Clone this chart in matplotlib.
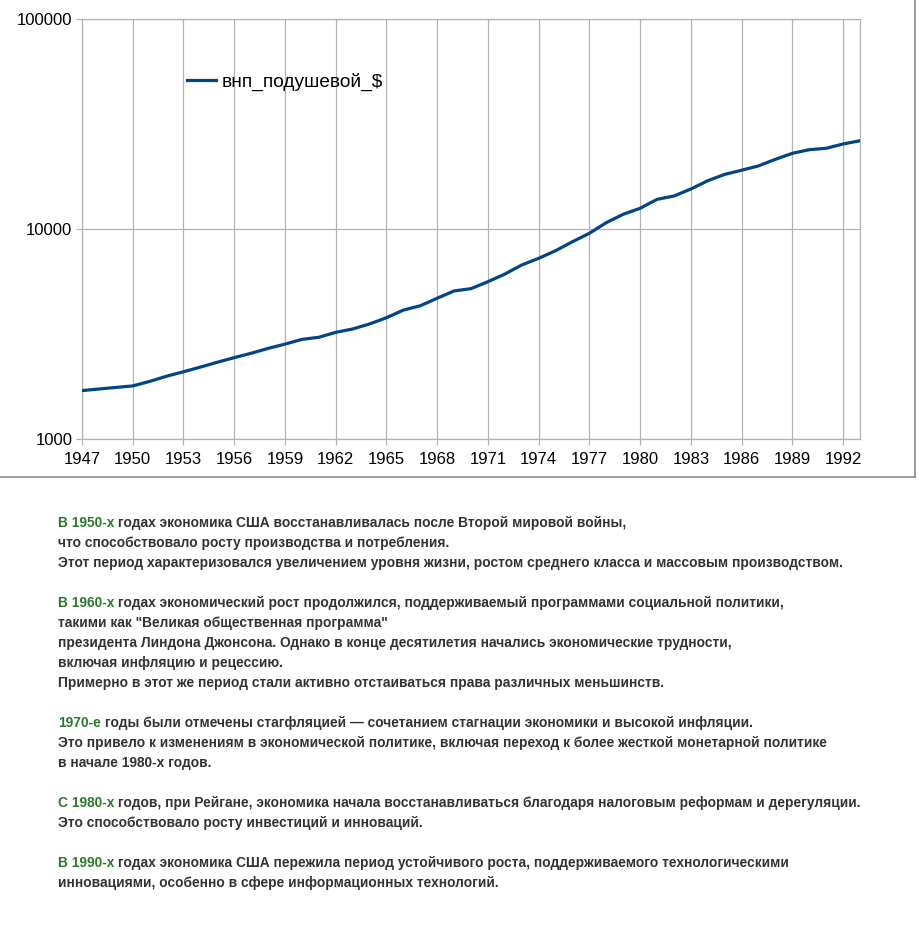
import numpy as np
import matplotlib.pyplot as plt
from matplotlib.lines import Line2D

plt.rcParams['font.family'] = ['Liberation Sans', 'DejaVu Sans']

years = list(range(1947, 1994))
gnp_per_capita = [1700, 1730, 1760, 1790, 1880, 1990, 2090, 2200, 2320, 2440,
                  2560, 2700, 2830, 2980, 3050, 3220, 3340, 3530, 3780, 4110,
                  4310, 4680, 5070, 5200, 5610, 6100, 6740, 7250, 7880, 8700,
                  9540, 10720, 11750, 12550, 13840, 14360, 15500, 16980, 18200,
                  19050, 19980, 21470, 22930, 23860, 24230, 25400, 26320]
series_name = 'внп_подушевой_$'
x_ticks = list(range(1947, 1993, 3))
y_ticks = [1000, 10000, 100000]

# paragraphs: (green prefix, rest of first line, following lines)
notes = [
    ('В 1950-х', ' годах экономика США восстанавливалась после Второй мировой войны,',
     ['что способствовало росту производства и потребления.',
      'Этот период характеризовался увеличением уровня жизни, ростом среднего класса и массовым производством.']),
    ('В 1960-х', ' годах экономический рост продолжился, поддерживаемый программами социальной политики,',
     ['такими как "Великая общественная программа"',
      'президента Линдона Джонсона. Однако в конце десятилетия начались экономические трудности,',
      'включая инфляцию и рецессию.',
      'Примерно в этот же период стали активно отстаиваться права различных меньшинств.']),
    ('1970-е', ' годы были отмечены стагфляцией — сочетанием стагнации экономики и высокой инфляции.',
     ['Это привело к изменениям в экономической политике, включая переход к более жесткой монетарной политике',
      'в начале 1980-х годов.']),
    ('С 1980-х', ' годов, при Рейгане, экономика начала восстанавливаться благодаря налоговым реформам и дерегуляции.',
     ['Это способствовало росту инвестиций и инноваций.']),
    ('В 1990-х', ' годах экономика США пережила период устойчивого роста, поддерживаемого технологическими',
     ['инновациями, особенно в сфере информационных технологий.']),
]

W, H = 919, 932
fig = plt.figure(figsize=(W / 100, H / 100), dpi=100)
ax = fig.add_axes([82 / W, 1 - 439 / H, (860 - 82) / W, (439 - 19) / H])

grid_c = '#b3b3b3'
ax.plot(years, gnp_per_capita, color='#004586', lw=2.3, label=series_name,
        solid_joinstyle='round', zorder=3)
ax.set_yscale('log')
ax.set_ylim(1000, 100000)
ax.set_xlim(1947, 1993)
ax.set_xticks(x_ticks)
ax.set_xticklabels([str(v) for v in x_ticks])
ax.set_yticks(y_ticks)
ax.set_yticklabels([str(v) for v in y_ticks])
ax.minorticks_off()
ax.grid(True, color=grid_c, lw=0.9)
for s in ax.spines.values():
    s.set_color(grid_c)
    s.set_linewidth(0.9)
ax.tick_params(colors=grid_c, labelcolor='black', labelsize=12, length=4, width=0.9, pad=3)
ax.tick_params(axis='x', pad=5)

ax.legend(loc='center left', bbox_to_anchor=(0.125, 1 - (82 - 19) / 420), frameon=False,
          fontsize=13.7, handlelength=1.55, handletextpad=0.28, borderaxespad=0)

# frame of the chart picture
fig.add_artist(Line2D([0, 915 / W], [1 - 477 / H] * 2, color='#8c8c8c', lw=1.2))
fig.add_artist(Line2D([915 / W] * 2, [1 - 477 / H, 1], color='#8c8c8c', lw=1.2))

renderer = fig.canvas.get_renderer()
txt_c = '#333333'
green = '#2b7a2b'
fs = 9.95
x0 = 58 / W
y = 527
for prefix, rest, more in notes:
    t = fig.text(x0, 1 - y / H, prefix, color=green, fontsize=fs, weight='bold', va='baseline')
    wpx = t.get_window_extent(renderer).width
    fig.text(x0 + wpx / W, 1 - y / H, rest, color=txt_c, fontsize=fs, weight='bold', va='baseline')
    y += 20
    for line in more:
        fig.text(x0, 1 - y / H, line, color=txt_c, fontsize=fs, weight='bold', va='baseline')
        y += 20
    y += 20

fig.savefig('out.png', dpi=100)
